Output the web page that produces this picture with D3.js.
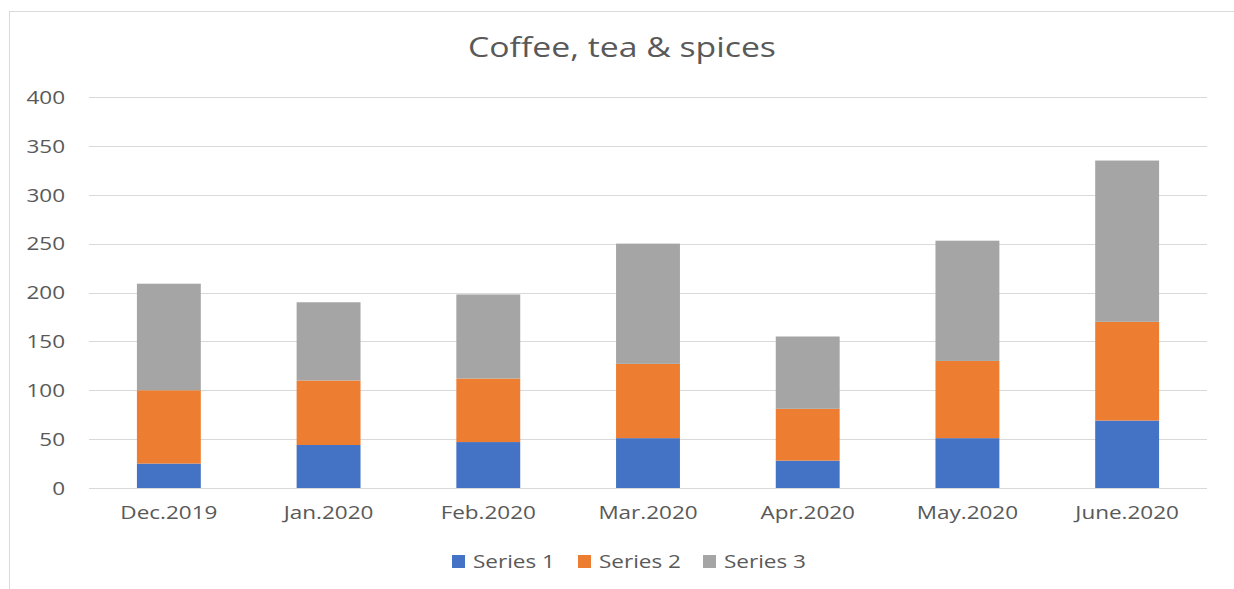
<!DOCTYPE html>
<html>
<head>
<meta charset="utf-8">
<script src="https://cdn.jsdelivr.net/npm/d3@7"></script>
<style>
  body { margin: 0; background: #fff; }
  text { font-family: "Open Sans", sans-serif; fill: #595959; }
</style>
</head>
<body>
<div id="vis"></div>
<script>
// chart data
var months = ['Dec.2019', 'Jan.2020', 'Feb.2020', 'Mar.2020', 'Apr.2020', 'May.2020', 'June.2020'];
var seriesNames = ['Series 1', 'Series 2', 'Series 3'];
var series1 = [25, 44, 47, 51, 28, 51, 69];
var series2 = [75, 66, 65, 76, 53, 79, 101];
var series3 = [109, 80, 86, 123, 74, 123, 165];
var yTicks = [0, 50, 100, 150, 200, 250, 300, 350, 400];
var colors = ['#4472C4', '#ED7D31', '#A5A5A5'];

var width = 1234;
var height = 589;
var margin = { top: 97, left: 89, bottom: 101, right: 27 };

// the original picture is a bit wide, so text is stretched horizontally
var sx = 1.25;

function stretch(sel) {
  sel.each(function () {
    var t = d3.select(this);
    var xv = +t.attr('x') || 0;
    t.attr('x', xv / sx).attr('transform', 'scale(' + sx + ',1)');
  });
}

var svg = d3.select('#vis').append('svg')
  .attr('width', width)
  .attr('height', height);

// outer chart border
svg.append('rect')
  .attr('x', 9.5)
  .attr('y', 11.5)
  .attr('width', 1240)
  .attr('height', 590)
  .attr('fill', 'none')
  .attr('stroke', '#d9d9d9');

var g = svg.append('g')
  .attr('transform', 'translate(' + margin.left + ',' + margin.top + ')');

var w = width - margin.left - margin.right;
var h = height - margin.top - margin.bottom;

var x = d3.scaleBand().domain(months).range([0, w]).paddingInner(0.6).paddingOuter(0.3);
var y = d3.scaleLinear().domain([0, 400]).range([h, 0]);

// gridlines
g.selectAll('.grid')
  .data(yTicks)
  .enter().append('line')
  .attr('x1', 0)
  .attr('x2', w)
  .attr('y1', function (d) { return Math.round(y(d)) + 0.5; })
  .attr('y2', function (d) { return Math.round(y(d)) + 0.5; })
  .attr('stroke', '#d9d9d9')
  .attr('stroke-width', 1);

// y axis labels
var yAxis = d3.axisLeft(y).tickValues(yTicks).tickSize(0).tickPadding(24);
var ya = g.append('g').call(yAxis);
ya.select('.domain').remove();
ya.selectAll('text')
  .style('font-size', '18px')
  .attr('dy', '0.35em')
  .call(stretch);

// x axis labels
var xAxis = d3.axisBottom(x).tickSize(0).tickPadding(18);
var xa = g.append('g').attr('transform', 'translate(0,' + h + ')').call(xAxis);
xa.select('.domain').remove();
xa.selectAll('text').style('font-size', '18px').call(stretch);

// stacked data
var rows = months.map(function (m, i) {
  return { month: m, s0: series1[i], s1: series2[i], s2: series3[i] };
});
var stack = d3.stack().keys(['s0', 's1', 's2']);
var layers = stack(rows);

g.selectAll('.layer')
  .data(layers)
  .enter().append('g')
  .attr('fill', function (d, i) { return colors[i]; })
  .selectAll('rect')
  .data(function (d) { return d; })
  .enter().append('rect')
  .attr('x', function (d) { return x(d.data.month); })
  .attr('y', function (d) { return y(d[1]); })
  .attr('width', x.bandwidth())
  .attr('height', function (d) { return y(d[0]) - y(d[1]); });

// title
svg.append('text')
  .attr('x', 622)
  .attr('y', 57)
  .attr('text-anchor', 'middle')
  .style('font-size', '27px')
  .text('Coffee, tea & spices')
  .call(stretch);

// legend
var legendX = [452, 578, 703];
var legend = svg.selectAll('.legend')
  .data(seriesNames)
  .enter().append('g')
  .attr('transform', function (d, i) { return 'translate(' + legendX[i] + ',555)'; });

legend.append('rect')
  .attr('width', 13)
  .attr('height', 13)
  .attr('fill', function (d, i) { return colors[i]; });

legend.append('text')
  .attr('x', 21)
  .attr('y', 13)
  .style('font-size', '18px')
  .text(function (d) { return d; })
  .call(stretch);
</script>
</body>
</html>
